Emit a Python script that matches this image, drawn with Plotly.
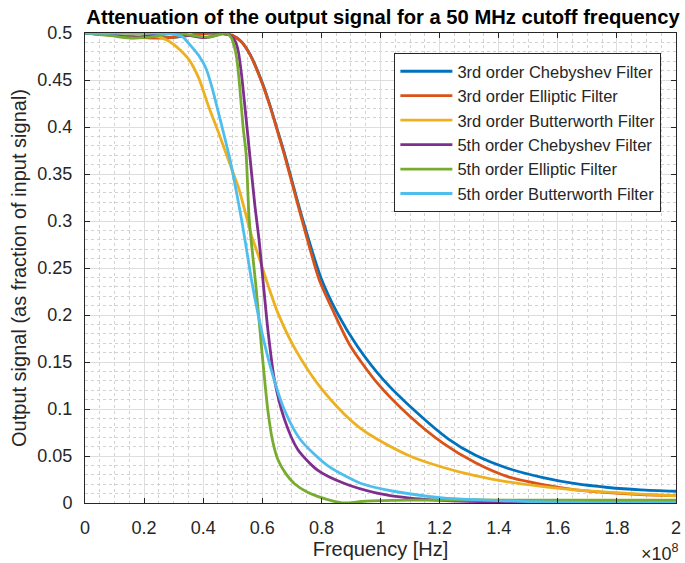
import plotly.graph_objects as go

# Frequencies in units of 1e8 Hz (as shown on the axis), converted to Hz below
cheb3_f = [0, 0.1, 0.2, 0.25, 0.3, 0.36, 0.42, 0.47, 0.5, 0.53, 0.56, 0.6, 0.625, 0.65, 0.675,
           0.73, 0.798, 0.854, 0.921, 1.01, 1.12, 1.23, 1.32, 1.43, 1.55, 1.66, 1.77, 1.88, 2.0]
cheb3_y = [0.5, 0.4975, 0.4952, 0.4948, 0.4955, 0.4978, 0.4998, 0.4992, 0.4972, 0.4905, 0.4765,
           0.447, 0.424, 0.398, 0.372, 0.309, 0.240, 0.202, 0.167, 0.131, 0.097, 0.068, 0.051,
           0.037, 0.027, 0.0205, 0.0165, 0.014, 0.0125]

ellip3_f = [0, 0.1, 0.2, 0.25, 0.3, 0.36, 0.42, 0.47, 0.5, 0.53, 0.56, 0.6, 0.625, 0.65, 0.675,
            0.731, 0.792, 0.843, 0.898, 0.988, 1.10, 1.21, 1.32, 1.43, 1.55, 1.66, 1.77, 1.88, 2.0]
ellip3_y = [0.5, 0.4975, 0.4952, 0.4948, 0.4955, 0.4978, 0.4998, 0.4992, 0.4972, 0.4905, 0.476,
            0.446, 0.423, 0.397, 0.370, 0.305, 0.238, 0.202, 0.167, 0.128, 0.092, 0.064, 0.043,
            0.028, 0.0195, 0.014, 0.011, 0.009, 0.0078]

butter3_f = [0, 0.1, 0.2, 0.26, 0.3, 0.351, 0.385, 0.418, 0.452, 0.485, 0.519, 0.546, 0.563,
             0.586, 0.619, 0.653, 0.709, 0.787, 0.876, 0.93, 0.988, 1.099, 1.21, 1.32, 1.43,
             1.55, 1.66, 1.77, 1.88, 2.0]
butter3_y = [0.5, 0.5, 0.4985, 0.4948, 0.488, 0.472, 0.452, 0.422, 0.394, 0.365, 0.336, 0.305,
             0.285, 0.264, 0.232, 0.202, 0.165, 0.127, 0.095, 0.080, 0.068, 0.050, 0.038, 0.029,
             0.0225, 0.0175, 0.014, 0.0115, 0.0095, 0.0077]

cheb5_f = [0, 0.08, 0.155, 0.23, 0.294, 0.35, 0.405, 0.445, 0.476, 0.5, 0.51, 0.519, 0.53,
           0.541, 0.558, 0.575, 0.589, 0.602, 0.619, 0.641, 0.675, 0.72, 0.787, 0.876, 0.988,
           1.1, 1.27, 1.5, 1.75, 2.0]
cheb5_y = [0.5, 0.4985, 0.4948, 0.4975, 0.4998, 0.4975, 0.495, 0.4975, 0.4998, 0.495, 0.490,
           0.480, 0.455, 0.422, 0.369, 0.316, 0.280, 0.238, 0.184, 0.131, 0.089, 0.057, 0.035,
           0.021, 0.0106, 0.0053, 0.002, 0.0008, 0.0003, 0.0001]

ellip5_f = [0, 0.08, 0.15, 0.22, 0.27, 0.317, 0.37, 0.418, 0.45, 0.478, 0.495, 0.505, 0.513,
            0.52, 0.527, 0.535, 0.545, 0.555, 0.562, 0.578, 0.597, 0.619, 0.635, 0.653, 0.68,
            0.709, 0.75, 0.787, 0.84, 0.876, 0.95, 1.1, 1.3, 1.6, 2.0]
ellip5_y = [0.5, 0.4975, 0.4948, 0.4955, 0.4985, 0.4995, 0.4972, 0.4955, 0.498, 0.4998, 0.495,
            0.486, 0.474, 0.455, 0.430, 0.400, 0.372, 0.305, 0.280, 0.232, 0.167, 0.098, 0.066,
            0.046, 0.031, 0.0205, 0.012, 0.007, 0.002, 0.0, 0.002, 0.003, 0.0032, 0.003, 0.003]

butter5_f = [0, 0.1, 0.2, 0.25, 0.3, 0.33, 0.351, 0.385, 0.41, 0.429, 0.463, 0.491, 0.513,
             0.530, 0.545, 0.563, 0.597, 0.63, 0.675, 0.73, 0.82, 0.932, 1.044, 1.21, 1.32,
             1.5, 1.75, 2.0]
butter5_y = [0.5, 0.5, 0.5, 0.4998, 0.4985, 0.496, 0.489, 0.476, 0.462, 0.443, 0.401, 0.365,
             0.330, 0.301, 0.273, 0.238, 0.184, 0.142, 0.099, 0.067, 0.040, 0.021, 0.0125,
             0.0055, 0.0035, 0.0015, 0.0005, 0.0003]

names = ["3rd order Chebyshev Filter", "3rd order Elliptic Filter", "3rd order Butterworth Filter",
         "5th order Chebyshev Filter", "5th order Elliptic Filter", "5th order Butterworth Filter"]
colors = ["#0072BD", "#D95319", "#EDB120", "#7E2F8E", "#77AC30", "#4DBEEE"]

x_tick_vals = [0, 0.2, 0.4, 0.6, 0.8, 1.0, 1.2, 1.4, 1.6, 1.8, 2.0]
x_tick_text = ["0", "0.2", "0.4", "0.6", "0.8", "1", "1.2", "1.4", "1.6", "1.8", "2"]
scale = 1e8

series = [(cheb3_f, cheb3_y), (ellip3_f, ellip3_y), (butter3_f, butter3_y),
          (cheb5_f, cheb5_y), (ellip5_f, ellip5_y), (butter5_f, butter5_y)]

font_family = "Liberation Sans, Arial, sans-serif"
ink = "#262626"

fig = go.Figure()
for (f, y), name, color in zip(series, names, colors):
    fig.add_trace(go.Scatter(
        x=[v * scale for v in f], y=y, mode="lines", name=name,
        line=dict(color=color, width=2.8, shape="spline", smoothing=0.7),
    ))

axis_common = dict(
    showline=True, linecolor=ink, linewidth=1, mirror="ticks",
    ticks="inside", ticklen=5, tickcolor=ink, tickwidth=1,
    showgrid=True, gridcolor="#dedede", gridwidth=1,
    zeroline=False, tickfont=dict(family=font_family, size=18, color=ink),
    ticklabeloverflow="allow",
)

fig.update_layout(
    width=685, height=563,
    margin=dict(l=85, r=4, t=33, b=60),
    paper_bgcolor="white", plot_bgcolor="white",
    font=dict(family=font_family, color=ink),
    title=dict(text="<b>Attenuation of the output signal for a 50 MHz cutoff frequency</b>",
               x=(85 + 681) / 2 / 685, xanchor="center", y=1 - 17 / 563, yanchor="middle",
               font=dict(size=20.2, color="black", family=font_family)),
    xaxis=dict(
        range=[0, 2 * scale],
        tickmode="array", tickvals=[v * scale for v in x_tick_vals], ticktext=x_tick_text,
        minor=dict(tickmode="linear", tick0=0, dtick=0.05 * scale, showgrid=True,
                   gridcolor="#d2d2d2", griddash="dot", gridwidth=1, ticks=""),
        title=dict(text="Frequency [Hz]", font=dict(size=20, color=ink, family=font_family),
                   standoff=5),
        ticklabelstandoff=8,
        **axis_common,
    ),
    yaxis=dict(
        range=[0, 0.5], tickmode="linear", tick0=0, dtick=0.05,
        minor=dict(tickmode="linear", tick0=0, dtick=0.01, showgrid=True,
                   gridcolor="#d2d2d2", griddash="dot", gridwidth=1, ticks=""),
        title=dict(text="Output signal (as fraction of input signal)",
                   font=dict(size=20, color=ink, family=font_family), standoff=5),
        ticklabelstandoff=8,
        **axis_common,
    ),
    legend=dict(
        x=(397 - 85) / 596, y=(503 - 53) / 470, xanchor="left", yanchor="top",
        bgcolor="white", bordercolor=ink, borderwidth=1,
        font=dict(size=16.5, color=ink, family=font_family),
        itemwidth=52, tracegroupgap=0,
    ),
    showlegend=True,
)

fig.add_annotation(
    text="×10<sup>8</sup>", xref="paper", yref="paper", x=1.008, y=(503 - 552) / 470,
    xanchor="right", yanchor="middle", showarrow=False,
    font=dict(size=18, color=ink, family=font_family),
)

fig.write_html("out.html")
